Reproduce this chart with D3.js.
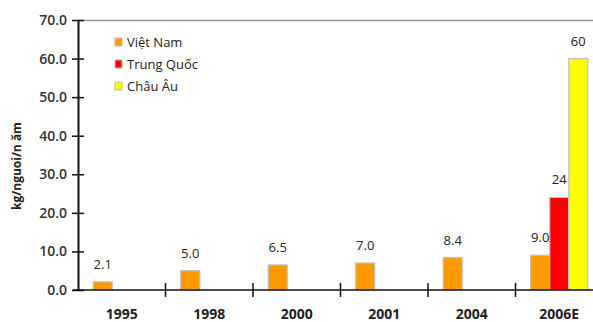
<!DOCTYPE html>
<html>
<head>
<meta charset="utf-8">
<script src="https://cdn.jsdelivr.net/npm/d3@7"></script>
<style>
  body { margin: 0; background: #fff; }
  svg { font-family: "Open Sans", sans-serif; }
</style>
</head>
<body>
<svg id="chart" width="593" height="322"></svg>
<script>
// categories and series
var years = ["1995", "1998", "2000", "2001", "2004", "2006E"];
var series = ["Việt Nam", "Trung Quốc", "Châu Âu"];
var colors = ["#ff9900", "#ff0000", "#ffff00"];
var vietnam = [2.1, 5.0, 6.5, 7.0, 8.4, 9.0];
var trungQuoc = [null, null, null, null, null, 24];
var chauAu = [null, null, null, null, null, 60];
var yTicks = [0, 10, 20, 30, 40, 50, 60, 70];

var svg = d3.select("#chart");

// plot area (avoid "top" - it's window.top)
var plotLeft = 78, plotTop = 20, plotBottom = 290;

var x0 = d3.scaleBand()
    .domain(years)
    .range([plotLeft, plotLeft + 87.5 * years.length]);

var x1 = d3.scaleBand()
    .domain(series)
    .range([0, x0.bandwidth()])
    .paddingOuter(0.8);

var y = d3.scaleLinear()
    .domain([0, 70])
    .range([plotBottom, plotTop]);

// top border
svg.append("line")
    .attr("x1", plotLeft).attr("x2", 593)
    .attr("y1", plotTop + 0.5).attr("y2", plotTop + 0.5)
    .attr("stroke", "#999").attr("stroke-width", 1.5);

// build rows for bars
var rows = [];
years.forEach(function(yr, i){
    [vietnam, trungQuoc, chauAu].forEach(function(arr, s){
        if (arr[i] != null) rows.push({year: yr, series: series[s], color: colors[s], value: arr[i]});
    });
});

svg.selectAll("rect.bar")
    .data(rows)
    .enter().append("rect")
    .attr("class", "bar")
    .attr("x", function(d){ return x0(d.year) + x1(d.series); })
    .attr("width", x1.bandwidth())
    .attr("y", function(d){ return y(d.value); })
    .attr("height", function(d){ return y(0) - y(d.value); })
    .attr("fill", function(d){ return d.color; })
    .attr("stroke", "#c0c0c0")
    .attr("stroke-width", 1.2);

// value labels
svg.selectAll("text.val")
    .data(rows)
    .enter().append("text")
    .attr("class", "val")
    .attr("x", function(d){ return x0(d.year) + x1(d.series) + x1.bandwidth() / 2; })
    .attr("y", function(d){ return y(d.value) - 13; })
    .attr("text-anchor", "middle")
    .attr("font-size", 13)
    .attr("fill", "#222")
    .text(function(d){ return d.value >= 20 ? d3.format("d")(d.value) : d3.format(".1f")(d.value); });

// y axis
var yAxis = d3.axisLeft(y)
    .tickValues(yTicks)
    .tickSize(0)
    .tickPadding(11)
    .tickFormat(d3.format(".1f"));

var gy = svg.append("g")
    .attr("transform", "translate(" + plotLeft + ",0)")
    .call(yAxis);
gy.select(".domain").attr("stroke", "#111").attr("stroke-width", 2);
gy.selectAll(".tick line").remove();
gy.selectAll(".tick").append("line")
    .attr("x1", -6).attr("x2", 6)
    .attr("stroke", "#111").attr("stroke-width", 1.5);
gy.selectAll(".tick text")
    .attr("font-size", 14)
    .attr("font-weight", 600)
    .attr("fill", "#333")
    .attr("font-family", "Open Sans, sans-serif");

// x axis
var xAxis = d3.axisBottom(x0).tickSize(0).tickPadding(19);
var gx = svg.append("g")
    .attr("transform", "translate(0," + plotBottom + ")")
    .call(xAxis);
gx.select(".domain").remove();
gx.append("line")
    .attr("x1", plotLeft - 5).attr("x2", 593)
    .attr("stroke", "#111").attr("stroke-width", 1.5);
gx.selectAll(".sep")
    .data(years.slice(1))
    .enter().append("line")
    .attr("class", "sep")
    .attr("x1", function(d){ return x0(d); })
    .attr("x2", function(d){ return x0(d); })
    .attr("y1", -7).attr("y2", 7)
    .attr("stroke", "#111").attr("stroke-width", 1.5);
gx.selectAll(".tick text")
    .attr("font-size", 14)
    .attr("font-weight", 700)
    .attr("fill", "#222")
    .attr("font-family", "Open Sans, sans-serif");

// y axis title
svg.append("text")
    .attr("transform", "translate(21,166) rotate(-90)")
    .attr("text-anchor", "middle")
    .attr("font-size", 12)
    .attr("font-weight", 700)
    .attr("fill", "#222")
    .text("kg/nguoi/n ăm");

// legend
var legend = svg.append("g").attr("transform", "translate(115,42)");
var item = legend.selectAll("g")
    .data(series)
    .enter().append("g")
    .attr("transform", function(d, i){ return "translate(0," + (i * 22) + ")"; });
item.append("rect")
    .attr("x", 0).attr("y", -4)
    .attr("width", 7).attr("height", 8)
    .attr("fill", function(d, i){ return colors[i]; })
    .attr("stroke", "#bbb").attr("stroke-width", 1);
item.append("text")
    .attr("x", 12).attr("y", 5)
    .attr("font-size", 13)
    .attr("fill", "#222")
    .text(function(d){ return d; });
</script>
</body>
</html>
